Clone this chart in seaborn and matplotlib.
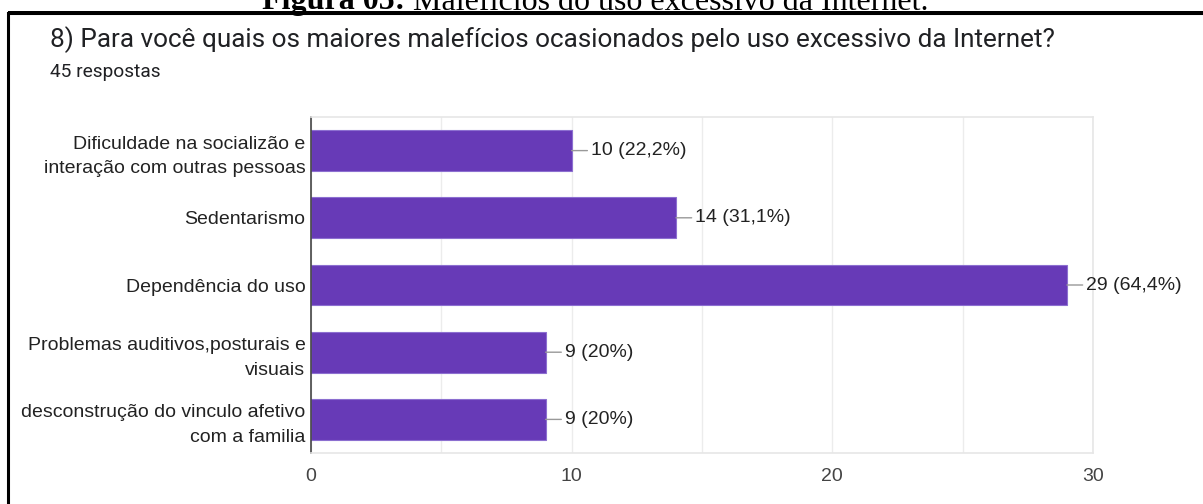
import matplotlib
matplotlib.use("Agg")
import matplotlib.pyplot as plt
import seaborn as sns
from matplotlib.patches import Rectangle

# data (Google Forms summary)
categorias = [
    "Dificuldade na socializão e\ninteração com outras pessoas",
    "Sedentarismo",
    "Dependência do uso",
    "Problemas auditivos,posturais e\nvisuais",
    "desconstrução do vinculo afetivo\ncom a familia",
]
respostas = [10, 14, 29, 9, 9]
total = 45
x_ticks = [0, 10, 20, 30]

titulo = "8) Para você quais os maiores malefícios ocasionados pelo uso excessivo da Internet?"
subtitulo = f"{total} respostas"

ROXO = "#673ab7"


def rotulo(n):
    pct = round(n / total * 100, 1)
    txt = f"{pct:.1f}".rstrip("0").rstrip(".").replace(".", ",")
    return f"{n} ({txt}%)"


sns.set_theme(style="white")
plt.rcParams["font.family"] = ["Liberation Sans", "DejaVu Sans"]

fig = plt.figure(figsize=(12.03, 5.04), dpi=100)
W, H = 1203, 504
ax = fig.add_axes([311 / W, 1 - 453 / H, (1093 - 311) / W, (453 - 117) / H])

sns.barplot(x=respostas, y=categorias, orient="h", color=ROXO, width=0.61,
            edgecolor="#8c6fd0", linewidth=0.8, saturation=1, ax=ax)

ax.set_xlim(0, 30)
ax.set_ylim(len(categorias) - 0.5, -0.5)
ax.set_xticks(x_ticks)
ax.set_xticks([5, 15, 25], minor=True)
ax.grid(axis="x", which="both", color="#ececec", lw=1)
ax.set_axisbelow(True)
ax.set_xlabel("")
ax.set_ylabel("")

for s in ["top", "right", "bottom"]:
    ax.spines[s].set_visible(True)
    ax.spines[s].set_color("#e6e6e6")
    ax.spines[s].set_linewidth(1.2)
ax.spines["left"].set_color("#444444")
ax.spines["left"].set_linewidth(1.2)

ax.tick_params(axis="x", which="both", length=0, pad=11, labelsize=14, labelcolor="#444444")
ax.tick_params(axis="y", length=0, pad=4, labelsize=14, labelcolor="#222222")
for t in ax.get_yticklabels():
    t.set_linespacing(1.58)

for i, n in enumerate(respostas):
    ax.annotate(rotulo(n), xy=(n, i), xytext=(19, 0), textcoords="offset pixels",
                va="center", ha="left", fontsize=14, color="#222222",
                arrowprops=dict(arrowstyle="-", color="#999999", lw=1,
                                shrinkA=0, shrinkB=0))

# title block in Google Forms style
fig.text(50 / W, 1 - 40 / H, titulo, family="Roboto", fontsize=18.8,
         color="#202124", va="center", ha="left")
fig.text(50 / W, 1 - 72 / H, subtitulo, family="Roboto", fontsize=13.8,
         color="#202124", va="center", ha="left")

# caption of the document, cut at the top edge
fig.text(413 / W, 1 - 9.5 / H, "Figura 05: ", family="Liberation Serif",
         fontsize=23, fontweight="bold", ha="right", va="baseline", color="black")
fig.text(413 / W, 1 - 9.5 / H, "Malefícios do uso excessivo da Internet.",
         family="Liberation Serif", fontsize=23, ha="left", va="baseline", color="black")

# frame of the pasted screenshot, drawn over the caption
frame = Rectangle((8 / W, -0.05), 1.1, 1 - 12.5 / H + 0.05,
                  transform=fig.transFigure, facecolor="white",
                  edgecolor="black", lw=2.2, zorder=5)
fig.add_artist(frame)
frame.set_zorder(-1)
fig.patches.append(Rectangle((8 / W, 1 - 14 / H), 1.1, 3 / H,
                             transform=fig.transFigure, facecolor="black",
                             edgecolor="none", zorder=10))

fig.savefig("out.png", dpi=100)
